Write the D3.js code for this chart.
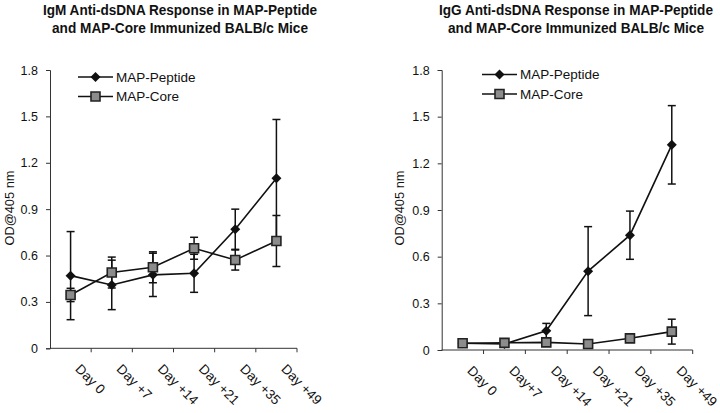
<!DOCTYPE html>
<html>
<head>
<meta charset="utf-8">
<script src="https://cdn.jsdelivr.net/npm/d3@7"></script>
<style>
  html, body { margin: 0; padding: 0; background: #fff; }
  svg { display: block; }
  .title { font-family: "Liberation Sans", Arial, sans-serif; font-weight: bold; font-size: 14px; fill: #111; }
  .lbl { font-family: "Liberation Sans", Arial, sans-serif; fill: #111; }
</style>
</head>
<body>
<div id="app"></div>
<script>
// Categories (the IgG panel prints "Day+7" without a space)
const daysIgM = ['Day 0', 'Day +7', 'Day +14', 'Day +21', 'Day +35', 'Day +49'];
const daysIgG = ['Day 0', 'Day+7', 'Day +14', 'Day +21', 'Day +35', 'Day +49'];
const yTicks = [0, 0.3, 0.6, 0.9, 1.2, 1.5, 1.8];

// IgM panel, mean OD and error (+/-)
const igmPeptide = [0.47, 0.41, 0.475, 0.485, 0.77, 1.10];
const igmPeptideErr = [0.285, 0.16, 0.14, 0.123, 0.13, 0.38];
const igmCore = [0.345, 0.49, 0.524, 0.647, 0.571, 0.694];
const igmCoreErr = [0.043, 0.1, 0.1, 0.071, 0.065, 0.165];

// IgG panel
const iggPeptide = [0.043, 0.039, 0.124, 0.507, 0.738, 1.319];
const iggPeptideErr = [0, 0, 0.047, 0.286, 0.155, 0.252];
const iggCore = [0.043, 0.046, 0.049, 0.039, 0.075, 0.118];
const iggCoreErr = [0, 0, 0, 0, 0, 0.08];

const seriesNames = ['MAP-Peptide', 'MAP-Core'];

const svg = d3.select('#app').append('svg')
  .attr('width', 720).attr('height', 413);

drawPanel({
  titles: ['IgM Anti-dsDNA Response in MAP-Peptide', 'and MAP-Core Immunized BALB/c Mice'],
  titleX: 180,
  days: daysIgM,
  xRange: [50, 297],
  yRange: [348.3, 70],
  yLabelX: 10,
  legendX: 78,
  legendY: 77,
  peptide: igmPeptide, peptideErr: igmPeptideErr,
  core: igmCore, coreErr: igmCoreErr
});

drawPanel({
  titles: ['IgG Anti-dsDNA Response in MAP-Peptide', 'and MAP-Core Immunized BALB/c Mice'],
  titleX: 576,
  days: daysIgG,
  xRange: [441.7, 692.7],
  yRange: [350, 70],
  yLabelX: 400,
  legendX: 482,
  legendY: 74.5,
  peptide: iggPeptide, peptideErr: iggPeptideErr,
  core: iggCore, coreErr: iggCoreErr
});

function drawPanel(o) {
  const g = svg.append('g');

  // titles are set in a condensed bold face in the original; squeeze to fit
  const titleWidths = [274, 256];
  g.selectAll('text.title').data(o.titles).join('text')
    .attr('class', 'title')
    .attr('x', o.titleX)
    .attr('y', (_, i) => 15 + i * 18)
    .attr('text-anchor', 'middle')
    .attr('textLength', (_, i) => titleWidths[i])
    .attr('lengthAdjust', 'spacingAndGlyphs')
    .text((d) => d);

  const x = d3.scaleBand().domain(o.days).range(o.xRange);
  const y = d3.scaleLinear().domain([0, 1.8]).range(o.yRange);
  const cx = (d) => x(d) + x.bandwidth() / 2;

  // y axis
  const yAxis = g.append('g')
    .attr('transform', `translate(${o.xRange[0]},0)`)
    .call(d3.axisLeft(y).tickValues(yTicks).tickSize(4).tickPadding(8)
      .tickFormat((d) => (d === 0 ? '0' : d3.format('.1f')(d))));
  yAxis.select('.domain').attr('stroke', '#333');
  yAxis.selectAll('.tick line').attr('stroke', '#333');
  yAxis.selectAll('.tick text').attr('font-size', 12.5).attr('font-family', '"Liberation Sans", Arial, sans-serif').attr('fill', '#111');

  // x axis: ticks at category boundaries, like the spreadsheet original
  const xAxisG = g.append('g').attr('transform', `translate(0,${o.yRange[0]})`);
  xAxisG.append('line')
    .attr('x1', o.xRange[0]).attr('x2', o.xRange[1])
    .attr('stroke', '#333');
  const bounds = o.days.map((d) => x(d)).concat([x(o.days[o.days.length - 1]) + x.bandwidth()]);
  xAxisG.selectAll('line.tk').data(bounds.slice(1)).join('line')
    .attr('class', 'tk')
    .attr('x1', (d) => d).attr('x2', (d) => d)
    .attr('y1', 0).attr('y2', 4)
    .attr('stroke', '#333');
  xAxisG.selectAll('text').data(o.days).join('text')
    .attr('class', 'lbl')
    .attr('font-size', 13.5)
    .attr('transform', (d) => `translate(${cx(d) + 4},${21.5}) rotate(45)`)
    .text((d) => d);

  // y label
  g.append('text')
    .attr('class', 'lbl')
    .attr('font-size', 12.8)
    .attr('text-anchor', 'middle')
    .attr('transform', `translate(${o.yLabelX + 4},${208}) rotate(-90)`)
    .text('OD@405 nm');

  const series = [
    { name: seriesNames[0], vals: o.peptide, err: o.peptideErr, shape: 'diamond' },
    { name: seriesNames[1], vals: o.core, err: o.coreErr, shape: 'square' }
  ];

  const line = d3.line().x((d) => cx(d.day)).y((d) => y(d.v));

  series.forEach((s) => {
    const pts = o.days.map((day, i) => ({ day, v: s.vals[i], e: s.err[i] }));
    g.append('path')
      .datum(pts)
      .attr('fill', 'none')
      .attr('stroke', '#111')
      .attr('stroke-width', 1.6)
      .attr('d', line);

    const eb = g.append('g').attr('stroke', '#111').attr('stroke-width', 1.5);
    pts.filter((d) => d.e > 0).forEach((d) => {
      const px = cx(d.day);
      eb.append('line').attr('x1', px).attr('x2', px).attr('y1', y(d.v - d.e)).attr('y2', y(d.v + d.e));
      [d.v - d.e, d.v + d.e].forEach((v) => {
        eb.append('line').attr('x1', px - 4).attr('x2', px + 4).attr('y1', y(v)).attr('y2', y(v));
      });
    });
  });

  // markers drawn after lines/error bars
  series.forEach((s) => {
    const pts = o.days.map((day, i) => ({ day, v: s.vals[i] }));
    g.selectAll(null).data(pts).join('path')
      .attr('transform', (d) => `translate(${cx(d.day)},${y(d.v)})`)
      .call(marker, s.shape);
  });

  // legend
  const lg = g.append('g').attr('transform', `translate(${o.legendX},${o.legendY})`);
  series.forEach((s, i) => {
    const row = lg.append('g').attr('transform', `translate(0,${i * 19.5})`);
    row.append('line').attr('x1', 0).attr('x2', 35).attr('stroke', '#111').attr('stroke-width', 1.6);
    row.append('path').attr('transform', 'translate(17.5,0)').call(marker, s.shape);
    row.append('text')
      .attr('class', 'lbl')
      .attr('x', 38).attr('y', 4.8)
      .attr('font-size', 13.5)
      .text(s.name);
  });
}

function marker(sel, shape) {
  if (shape === 'diamond') {
    sel.attr('d', 'M0,-5L5,0L0,5L-5,0Z').attr('fill', '#111');
  } else {
    sel.attr('d', 'M-4.5,-4.5H4.5V4.5H-4.5Z')
      .attr('fill', '#8c8c8c')
      .attr('stroke', '#222')
      .attr('stroke-width', 1.6);
  }
}
</script>
</body>
</html>
